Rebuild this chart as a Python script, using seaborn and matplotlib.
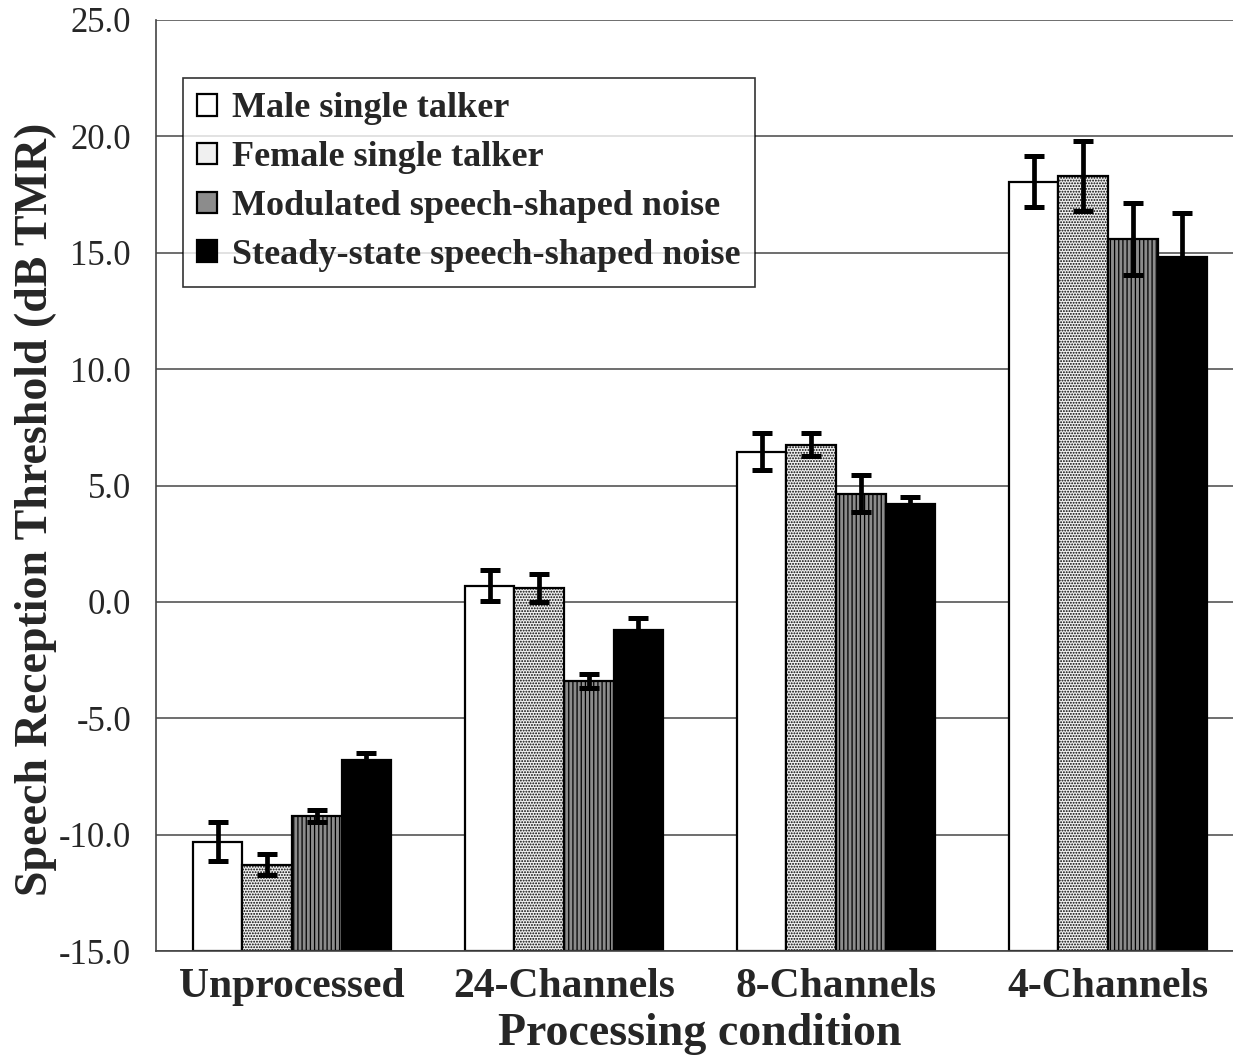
import matplotlib
matplotlib.use("Agg")
import matplotlib.pyplot as plt
import seaborn as sns
import pandas as pd
import numpy as np

conditions = ["Unprocessed", "24-Channels", "8-Channels", "4-Channels"]
maskers = ["Male single talker", "Female single talker",
           "Modulated speech-shaped noise", "Steady-state speech-shaped noise"]

male_srt = [-10.3, 0.7, 6.45, 18.05]
female_srt = [-11.3, 0.6, 6.75, 18.3]
modulated_srt = [-9.2, -3.4, 4.65, 15.6]
steady_srt = [-6.8, -1.2, 4.2, 14.8]

male_err = [0.85, 0.65, 0.8, 1.1]
female_err = [0.45, 0.6, 0.5, 1.5]
modulated_err = [0.25, 0.3, 0.8, 1.55]
steady_err = [0.3, 0.5, 0.3, 1.9]

values = [male_srt, female_srt, modulated_srt, steady_srt]
errors = [male_err, female_err, modulated_err, steady_err]

y_floor = -15.0

df = pd.DataFrame({
    "condition": np.repeat([conditions], 4, axis=0).ravel(),
    "masker": np.repeat(maskers, len(conditions)),
    "srt": np.concatenate(values),
})

sns.set_style("white")
plt.rcParams["font.family"] = ["Liberation Serif", "DejaVu Serif"]
plt.rcParams["hatch.linewidth"] = 0.9

fig = plt.figure(figsize=(12.33, 10.56), dpi=100)
ax = fig.add_axes([156 / 1233, 1 - 951 / 1056, 1088 / 1233, 931 / 1056])

fills = ["white", "#f0f0f0", "#8c8c8c", "black"]
hatches = [None, "......", "||||", None]
hatch_cols = ["black", "#b4b4b4", "#555555", "black"]

sns.barplot(data=df, x="condition", y="srt", hue="masker", order=conditions,
            hue_order=maskers, palette=fills, width=0.73, errorbar=None,
            edgecolor="black", linewidth=1.6, ax=ax, zorder=2)

bar_groups = list(ax.containers)
for k, cont in enumerate(bar_groups):
    for j, bar in enumerate(cont):
        # bars rise from the bottom of the value axis up to their value
        top = bar.get_y() + bar.get_height()
        bar.set_y(y_floor)
        bar.set_height(top - y_floor)
        if hatches[k]:
            bar.set_hatch(hatches[k])
            bar._hatch_color = matplotlib.colors.to_rgba(hatch_cols[k])
        bar.set_edgecolor("black")
        cx = bar.get_x() + bar.get_width() / 2
        ax.errorbar(cx, values[k][j], yerr=errors[k][j], fmt="none",
                    ecolor="black", elinewidth=3.4, capsize=7, capthick=3.6,
                    zorder=4)

ax.set_ylim(-15, 25)
ax.set_xlim(-0.5, 3.5)
ticks = np.arange(-15, 25.1, 5)
ax.set_yticks(ticks)
ax.set_yticklabels([f"{v:.1f}" for v in ticks], fontsize=25)
ax.yaxis.grid(True, color="#555555", linewidth=1.2, zorder=0)
ax.set_axisbelow(True)
ax.tick_params(axis="y", direction="out", length=7, width=1.2, color="#444444", pad=11)
ax.tick_params(axis="x", length=0, pad=12)
for lab in ax.get_xticklabels():
    lab.set_fontsize(30)
    lab.set_fontweight("bold")

for side in ["top", "right"]:
    ax.spines[side].set_visible(False)
for side in ["left", "bottom"]:
    ax.spines[side].set_color("#444444")
    ax.spines[side].set_linewidth(1.2)

ax.set_xlabel("Processing condition", fontsize=33, fontweight="bold", labelpad=5)
ax.set_ylabel("Speech Reception Threshold (dB TMR)", fontsize=33, fontweight="bold", labelpad=1)
ax.yaxis.label.set_y(0.474)

leg = ax.legend(loc="upper left", bbox_to_anchor=((183 - 156) / 1088, (951 - 78) / 931),
                prop={"family": "Liberation Serif", "weight": "bold", "size": 26},
                frameon=True, fancybox=False, edgecolor="black", handlelength=0.55,
                handleheight=0.55, handletextpad=0.4, labelspacing=0.44,
                borderpad=0.4, borderaxespad=0)
leg.get_frame().set_linewidth(1.2)

fig.savefig("out.png", dpi=100)
